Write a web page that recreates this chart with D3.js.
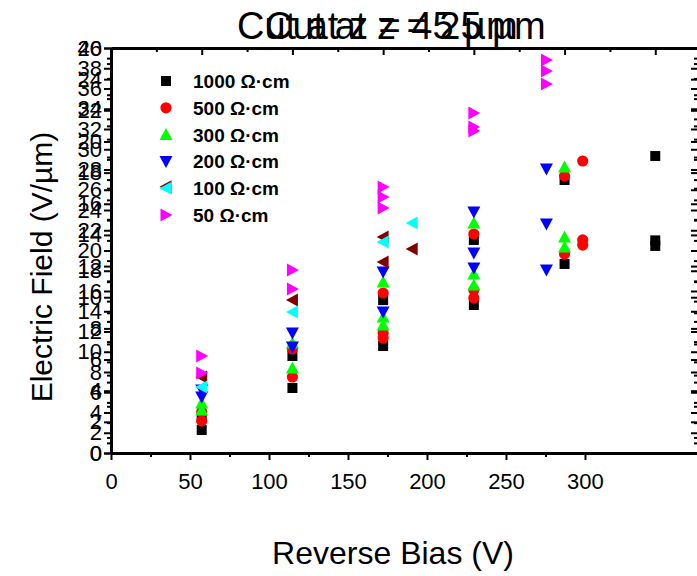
<!DOCTYPE html>
<html><head><meta charset="utf-8">
<script src="https://cdn.jsdelivr.net/npm/d3@7"></script>
<style>
body{margin:0;background:#fff}
text{font-family:Arial,"Liberation Sans",sans-serif;fill:#000}
</style>
</head><body>
<svg id="chart" width="697" height="576"></svg>
<script>
// ---------------- data ----------------
const titles = ["Cut at z = 45 µm", "Cut at z = 25 µm"];
const xTicksBottom = [0, 50, 100, 150, 200, 250, 300];
const yTicksA = d3.range(0, 41, 2);   // 0..40
const yTicksB = d3.range(0, 27, 2);   // 0..26

const bias1000  = [50, 50, 100, 100, 150, 150, 200, 200, 250, 250, 300, 300, 300];
const field1000 = [3.46, 2.27, 9.58, 6.42, 15.1, 10.57, 21.04, 14.62, 26.96, 18.67, 29.33, 21.0, 20.45];

const bias500  = [50, 50, 100, 100, 150, 150, 150, 200, 200, 200, 250, 250, 260, 260, 260];
const field500 = [4.05, 3.16, 10.27, 7.51, 15.8, 11.85, 11.36, 21.63, 16.1, 15.31, 27.36, 19.65, 28.84, 21.04, 20.54];

const bias300  = [50, 50, 100, 100, 150, 150, 150, 200, 200, 200, 250, 250, 250];
const field300 = [4.94, 4.25, 10.86, 8.4, 16.89, 13.43, 12.64, 22.72, 17.68, 16.59, 28.25, 21.33, 20.35];

const bias200  = [50, 50, 100, 100, 150, 150, 200, 200, 200, 240, 240, 240];
const field200 = [6.22, 5.53, 11.85, 10.47, 17.88, 13.93, 23.8, 19.75, 18.27, 28.05, 22.62, 18.07];

const bias100a  = [50, 100, 150, 150, 166];
const field100a = [7.51, 15.11, 21.33, 18.86, 20.15];

const bias100b  = [50, 100, 150, 166];
const field100b = [6.52, 13.93, 20.84, 22.72];

const bias50  = [50, 50, 100, 100, 150, 150, 150, 200, 200, 200, 240, 240, 240];
const field50 = [9.58, 7.9, 18.07, 16.2, 26.27, 25.28, 24.2, 33.58, 32.2, 31.8, 38.81, 37.73, 36.44];

const seriesLabels = ["1000 Ω·cm", "500 Ω·cm", "300 Ω·cm", "200 Ω·cm", "100 Ω·cm", "100 Ω·cm", "50 Ω·cm"];
const seriesColors = ["#000000", "#ff0000", "#00ff00", "#0000ff", "#800000", "#00ffff", "#ff00ff"];
const seriesShapes = ["square", "circle", "up", "down", "left", "left", "right"];

const series = [
  {b: bias1000, f: field1000}, {b: bias500, f: field500}, {b: bias300, f: field300},
  {b: bias200, f: field200}, {b: bias100a, f: field100a}, {b: bias100b, f: field100b},
  {b: bias50, f: field50}
].map((s, i) => ({label: seriesLabels[i], color: seriesColors[i], shape: seriesShapes[i],
  pts: s.b.map((v, j) => ({v, e: s.f[j]}))}));

// ---------------- layout ----------------
const svg = d3.select("#chart");
const L = 111, R = 697, T = 48, B = 453;

const xData = d3.scaleLinear().domain([0, 323]).range([L, R]);
const xBottom = d3.scaleLinear().domain([0, 370.9]).range([L, R]);
const yA = d3.scaleLinear().domain([0, 40]).range([B, T]);
const yB = d3.scaleLinear().domain([0, 26]).range([B, T]);

function shapePath(shape) {
  switch (shape) {
    case "square": return "M-5,-5H5V5H-5Z";
    case "circle": return "M5.6,0A5.6,5.6 0 1 1 -5.6,0A5.6,5.6 0 1 1 5.6,0Z";
    case "up": return "M0,-6.5L6.5,5.5L-6.5,5.5Z";
    case "down": return "M0,6.5L6.5,-5.5L-6.5,-5.5Z";
    case "left": return "M-6.5,0L5.5,-6.5L5.5,6.5Z";
    case "right": return "M6.5,0L-5.5,-6.5L-5.5,6.5Z";
  }
}

// ---------------- axes ----------------
function styleAxis(g, w) {
  g.select(".domain").attr("stroke-width", w).attr("stroke", "#000");
  g.selectAll(".tick line").attr("stroke-width", 2).attr("stroke", "#000");
  g.selectAll(".tick text").style("font-size", "22px").style("font-family", "Arial, 'Liberation Sans', sans-serif");
}

// left axis A (minor)
svg.append("g").attr("transform", `translate(${L},0)`)
  .call(d3.axisLeft(yA).tickValues(d3.range(1, 40, 2)).tickSize(4).tickFormat("").tickSizeOuter(0))
  .call(g => styleAxis(g, 3));
// left axis B (minor)
svg.append("g").attr("transform", `translate(${L},0)`)
  .call(d3.axisLeft(yB).tickValues(d3.range(1, 26, 2)).tickSize(4).tickFormat("").tickSizeOuter(0))
  .call(g => styleAxis(g, 3));
// left axis B (major)
svg.append("g").attr("transform", `translate(${L},0)`)
  .call(d3.axisLeft(yB).tickValues(yTicksB).tickSize(7).tickPadding(2).tickSizeOuter(0))
  .call(g => styleAxis(g, 3));
// left axis A (major)
svg.append("g").attr("transform", `translate(${L},0)`)
  .call(d3.axisLeft(yA).tickValues(yTicksA).tickSize(7).tickPadding(2).tickSizeOuter(0))
  .call(g => styleAxis(g, 3));

// right mirror ticks (inward)
[[yA, 40], [yB, 26]].forEach(([sc, mx]) => {
  svg.append("g").attr("transform", `translate(${R + 1},0)`)
    .call(d3.axisLeft(sc).tickValues(d3.range(0, mx + 1, 2)).tickSize(7).tickFormat("").tickSizeOuter(0))
    .call(g => styleAxis(g, 3));
  svg.append("g").attr("transform", `translate(${R + 1},0)`)
    .call(d3.axisLeft(sc).tickValues(d3.range(1, mx, 2)).tickSize(4).tickFormat("").tickSizeOuter(0))
    .call(g => styleAxis(g, 3));
});

// bottom axis
svg.append("g").attr("transform", `translate(0,${B})`)
  .call(d3.axisBottom(xBottom).tickValues(d3.range(25, 300, 50)).tickSize(4).tickFormat("").tickSizeOuter(0))
  .call(g => styleAxis(g, 3));
svg.append("g").attr("transform", `translate(0,${B})`)
  .call(d3.axisBottom(xBottom).tickValues(xTicksBottom).tickSize(7).tickPadding(13).tickSizeOuter(0))
  .call(g => styleAxis(g, 3));

// top axis (inward)
svg.append("g").attr("transform", `translate(0,${T})`)
  .call(d3.axisBottom(xData).tickValues(d3.range(25, 323, 50)).tickSize(4).tickFormat("").tickSizeOuter(0))
  .call(g => styleAxis(g, 3));
svg.append("g").attr("transform", `translate(0,${T})`)
  .call(d3.axisBottom(xData).tickValues(d3.range(0, 323, 50)).tickSize(7).tickFormat("").tickSizeOuter(0))
  .call(g => styleAxis(g, 3));

// ---------------- points ----------------
series.forEach(s => {
  svg.append("g").selectAll("path").data(s.pts).join("path")
    .attr("d", shapePath(s.shape))
    .attr("transform", d => `translate(${xData(d.v)},${yA(d.e)})`)
    .attr("fill", s.color);
});

// ---------------- legend ----------------
const lg = svg.append("g");
const legendRows = [0, 1, 2, 3, 4, 6];
legendRows.forEach((si, r) => {
  const y = 81 + r * 26.8;
  const s = series[si];
  if (si === 4) {
    lg.append("path").attr("d", shapePath("left")).attr("fill", series[4].color)
      .attr("transform", `translate(166,${y - 1.5})`);
    lg.append("path").attr("d", shapePath("left")).attr("fill", series[5].color)
      .attr("transform", `translate(166,${y})`);
  } else {
    lg.append("path").attr("d", shapePath(s.shape)).attr("fill", s.color)
      .attr("transform", `translate(166,${y})`);
  }
  lg.append("text").attr("x", 193).attr("y", y + 7)
    .style("font-size", "19px").style("font-weight", "bold").text(s.label);
});

// ---------------- titles & labels ----------------
svg.append("text").attr("x", 237).attr("y", 39).style("font-size", "38px").text(titles[0]);
svg.append("text").attr("x", 265).attr("y", 39).style("font-size", "38px").text(titles[1]);

svg.append("text").attr("x", 393).attr("y", 564).attr("text-anchor", "middle")
  .style("font-size", "32px").text("Reverse Bias (V)");
svg.append("text").attr("transform", "translate(52,267) rotate(-90)").attr("text-anchor", "middle")
  .style("font-size", "30px").text("Electric Field (V/µm)");
</script>
</body></html>
